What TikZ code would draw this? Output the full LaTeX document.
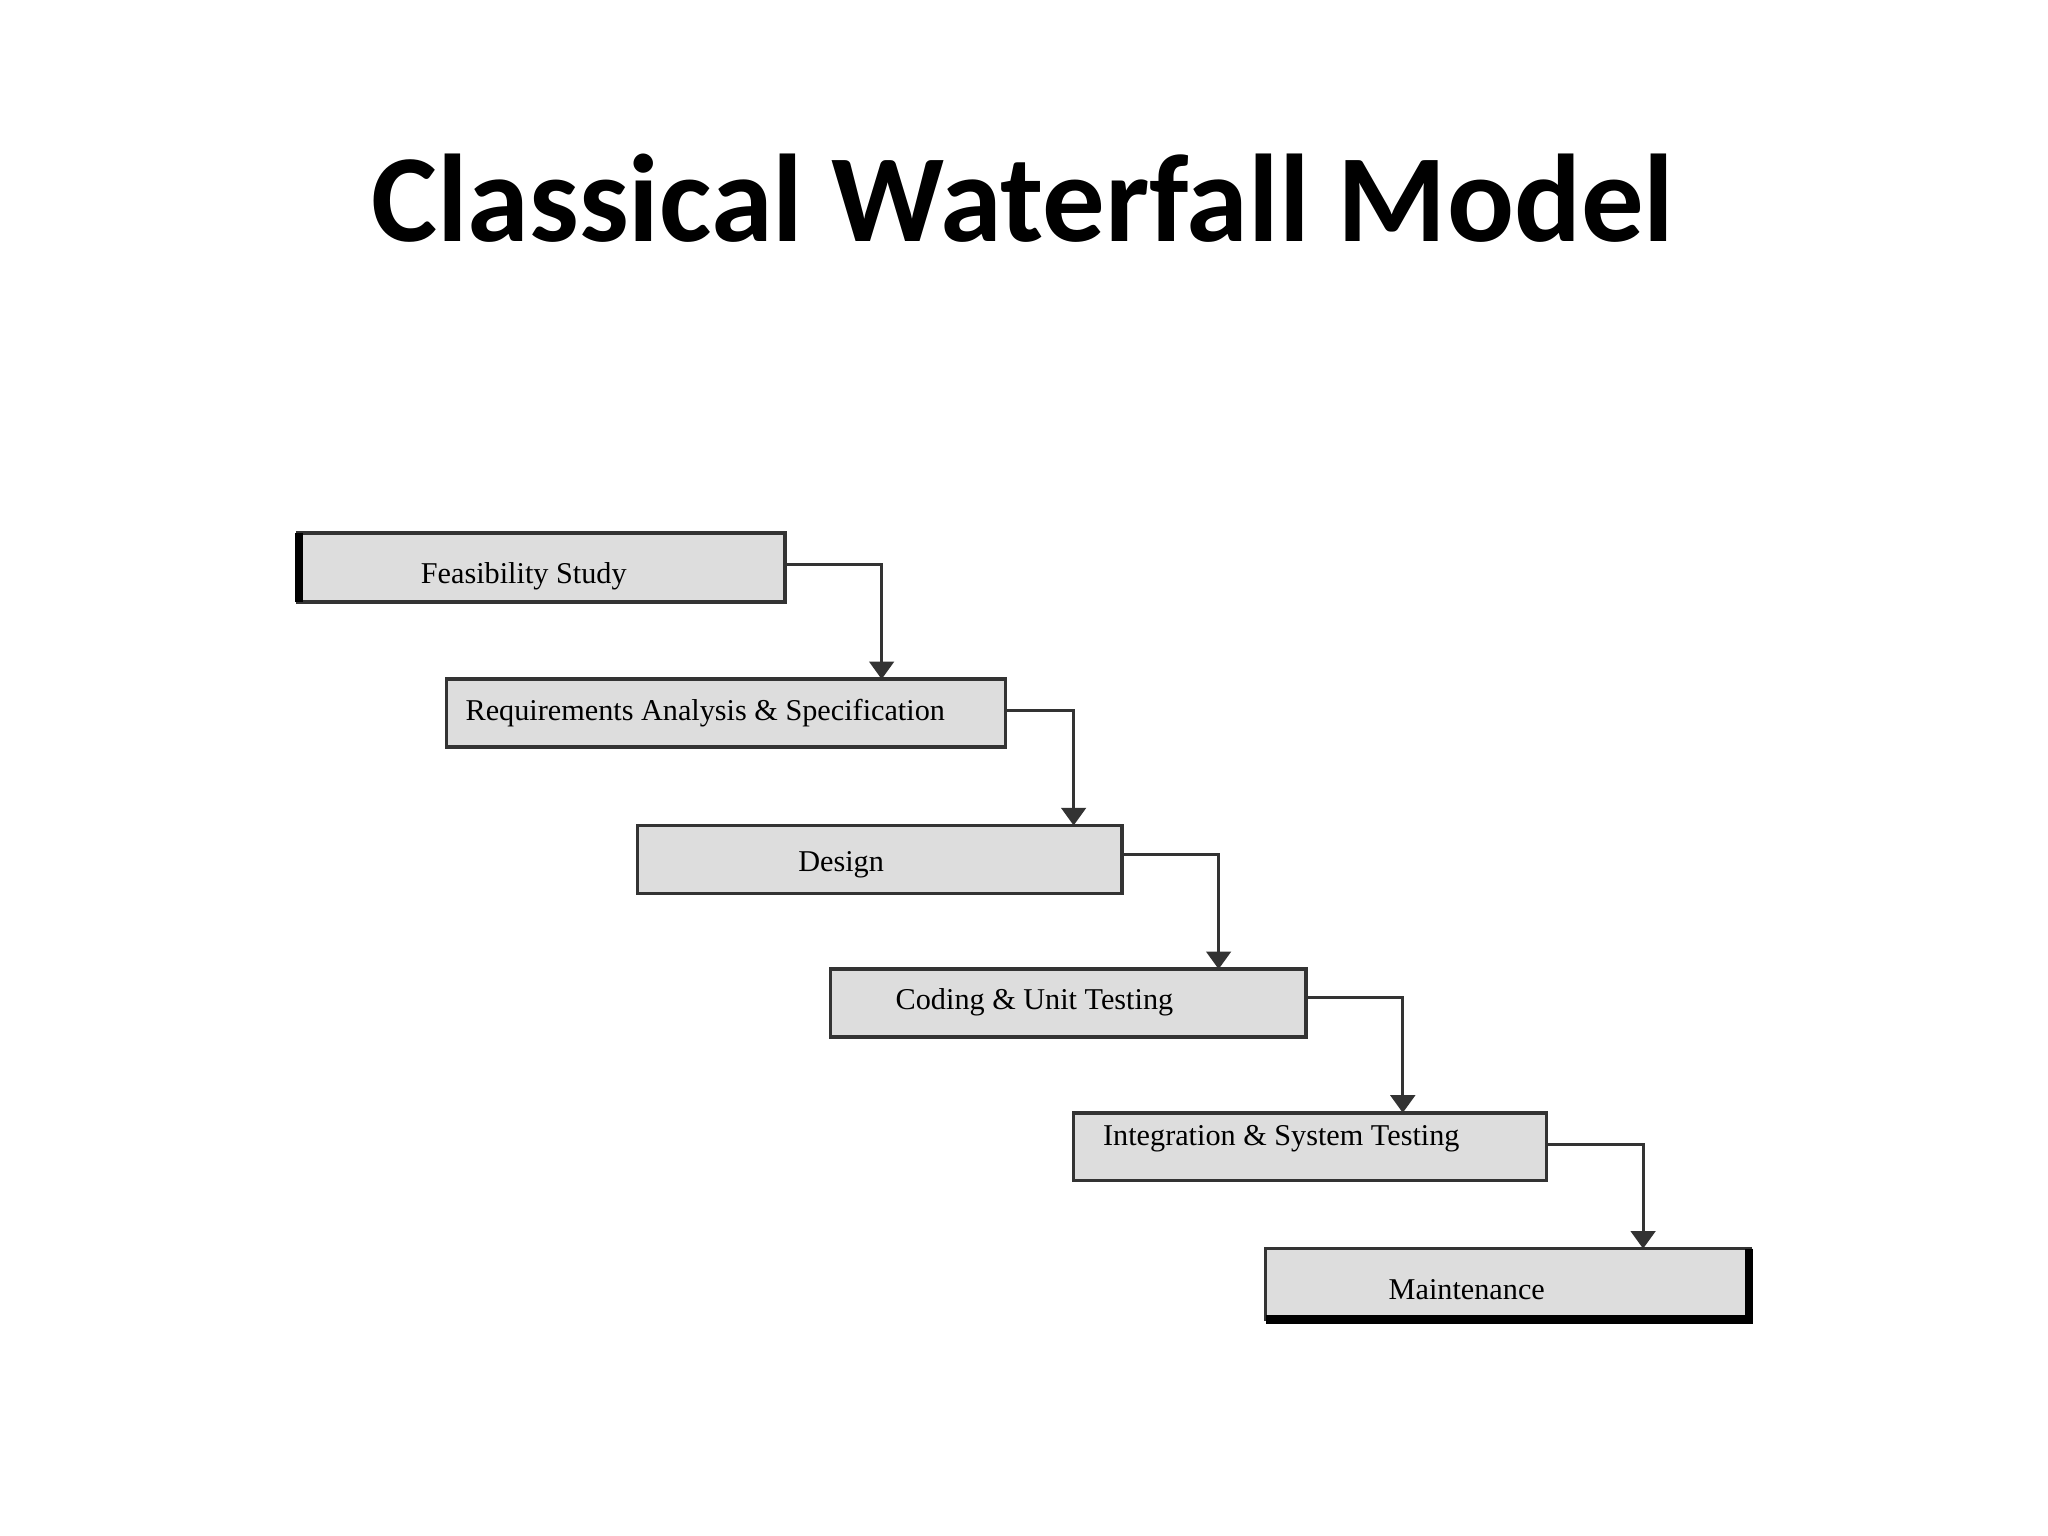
\documentclass[tikz,border=0pt]{standalone}
\usepackage{fontspec}
\setmainfont{Liberation Serif}
\newfontfamily\titlefont{Carlito}
\usetikzlibrary{arrows.meta}
\definecolor{boxgray}{HTML}{DDDDDD}
\begin{document}
\begin{tikzpicture}[x=0.01306cm, y=-0.01306cm,
  phase/.style={draw=black!80, fill=boxgray, line width=1pt},
  lbl/.style={font=\fontsize{8.6}{10}\selectfont},
  flow/.style={draw=black!80, line width=0.8pt, -{Triangle[length=5pt,width=7pt]}}]
  \useasboundingbox (0,0) rectangle (1568,1176);
  \node[font=\titlefont\bfseries\fontsize{35.5}{42}\selectfont] (title) at (783,152) {Classical Waterfall Model};
  % boxes
  \draw[phase] (228,408) rectangle (601,461);
  \draw[phase] (342,520) rectangle (770,572);
  \draw[phase] (488,632) rectangle (859,684);
  \draw[phase] (636,742) rectangle (1000,794);
  \draw[phase] (822,852) rectangle (1184,904);
  \draw[phase] (969,956) rectangle (1340,1010);
  \draw[line width=2.5pt] (229,408) -- (229,461);
  \draw[line width=2.5pt] (1339,956) -- (1339,1010) -- (969,1010);
  \coordinate (fs) at (601,432); \coordinate (ra) at (675,520);
  \coordinate (rs) at (770,544); \coordinate (de) at (822,632);
  \coordinate (ds) at (859,654); \coordinate (co) at (933,742);
  \coordinate (cs) at (1000,764); \coordinate (in) at (1074,852);
  \coordinate (is) at (1184,876); \coordinate (ma) at (1258,956);
  \node[lbl] (t1) at (401,441) {Feasibility Study};
  \node[lbl] (t2) at (540,546) {Requirements Analysis \& Specification};
  \node[lbl] (t3) at (644,662) {Design};
  \node[lbl] (t4) at (792,767) {Coding \& Unit Testing};
  \node[lbl] (t5) at (981,872) {Integration \& System Testing};
  \node[lbl] (t6) at (1123,987) {Maintenance};
  \draw[flow] (fs) -| (ra);
  \draw[flow] (rs) -| (de);
  \draw[flow] (ds) -| (co);
  \draw[flow] (cs) -| (in);
  \draw[flow] (is) -| (ma);
\end{tikzpicture}
\end{document}
